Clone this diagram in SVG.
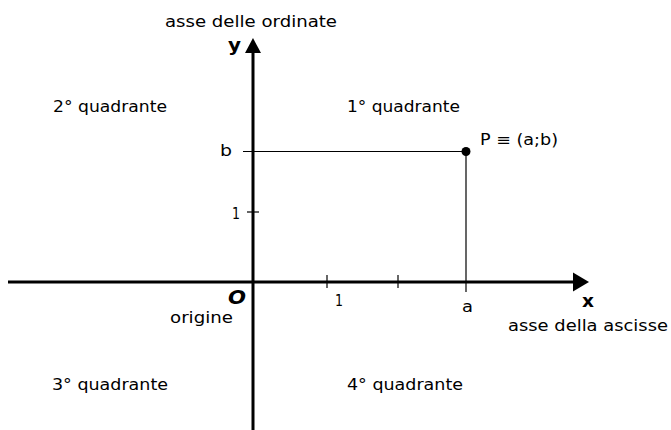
<svg xmlns="http://www.w3.org/2000/svg" width="671" height="430" viewBox="0 0 671 430">
<style>
text { font-family: "DejaVu Sans", "Liberation Sans", sans-serif; font-size: 15px; fill: #000; }
.b { font-weight: bold; font-size: 18px; }
.axis { stroke: #000; stroke-width: 3; fill: none; }
.thin { stroke: #000; stroke-width: 1.2; fill: none; }
</style>
<rect width="671" height="430" fill="#fff"/>
<g id="connectors">
  <line class="axis" x1="8" y1="282" x2="575" y2="282"/>
  <polygon points="573,272.5 589,282 573,291.5" fill="#000"/>
  <line class="axis" x1="253" y1="430" x2="253" y2="50"/>
  <polygon points="245,53 253,38 261,53" fill="#000"/>
  <line class="thin" x1="243" y1="151.5" x2="466" y2="151.5"/>
  <line class="thin" x1="466" y1="151.5" x2="466" y2="292"/>
  <line class="thin" x1="247" y1="212" x2="259" y2="212"/>
  <line class="thin" x1="327" y1="275" x2="327" y2="288"/>
  <line class="thin" x1="398" y1="275" x2="398" y2="288"/>
</g>
<g id="point-P">
  <circle cx="466" cy="151.5" r="4.5" fill="#000"/>
  <text x="480" y="145" textLength="78" lengthAdjust="spacingAndGlyphs">P ≡ (a;b)</text>
</g>
<g id="y-axis-label">
  <text x="165" y="27" textLength="172" lengthAdjust="spacingAndGlyphs">asse delle ordinate</text>
  <text class="b" x="228" y="51" textLength="13" lengthAdjust="spacingAndGlyphs">y</text>
</g>
<g id="x-axis-label">
  <text class="b" x="582" y="307" textLength="12" lengthAdjust="spacingAndGlyphs">x</text>
  <text x="508" y="331" textLength="160" lengthAdjust="spacingAndGlyphs">asse della ascisse</text>
</g>
<g id="origin">
  <text class="b" x="228" y="304" style="font-style:italic;font-size:20px" textLength="18" lengthAdjust="spacingAndGlyphs">O</text>
  <text x="170" y="323" textLength="63" lengthAdjust="spacingAndGlyphs">origine</text>
</g>
<g id="tick-labels">
  <text x="220" y="156" textLength="12" lengthAdjust="spacingAndGlyphs">b</text>
  <text x="232" y="219" textLength="8" lengthAdjust="spacingAndGlyphs">1</text>
  <text x="335" y="306" textLength="8" lengthAdjust="spacingAndGlyphs">1</text>
  <text x="462" y="312" textLength="11" lengthAdjust="spacingAndGlyphs">a</text>
</g>
<g id="quadrant-1"><text x="347" y="112" textLength="113" lengthAdjust="spacingAndGlyphs">1° quadrante</text></g>
<g id="quadrant-2"><text x="53" y="112" textLength="114" lengthAdjust="spacingAndGlyphs">2° quadrante</text></g>
<g id="quadrant-3"><text x="52" y="390" textLength="116" lengthAdjust="spacingAndGlyphs">3° quadrante</text></g>
<g id="quadrant-4"><text x="347" y="390" textLength="116" lengthAdjust="spacingAndGlyphs">4° quadrante</text></g>
</svg>
